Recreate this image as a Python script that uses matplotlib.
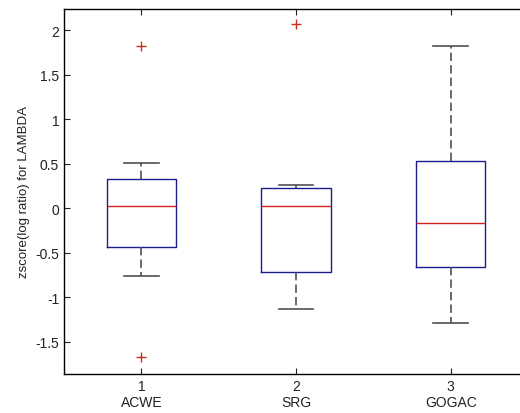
import matplotlib.pyplot as plt

plt.rcParams['font.family'] = ['Liberation Sans', 'DejaVu Sans']

# box statistics
labels = ["1\nACWE", "2\nSRG", "3\nGOGAC"]
medians = [0.02, 0.02, -0.17]
q1 = [-0.44, -0.71, -0.655]
q3 = [0.33, 0.23, 0.53]
whislo = [-0.76, -1.13, -1.29]
whishi = [0.51, 0.26, 1.82]
fliers = [[1.82, -1.67], [2.07], []]

stats = []
for i in range(len(labels)):
    stats.append(dict(med=medians[i], q1=q1[i], q3=q3[i],
                      whislo=whislo[i], whishi=whishi[i],
                      fliers=fliers[i], label=labels[i]))

fig = plt.figure(figsize=(5.2, 4.14), dpi=100)
ax = fig.add_axes([64 / 520, 39 / 414, 464 / 520, 365 / 414])

ax.bxp(stats, widths=0.45, showcaps=True,
       boxprops=dict(color='#1c1c8c', linewidth=1),
       medianprops=dict(color='#d42020', linewidth=1),
       whiskerprops=dict(color='#505050', linewidth=1.2, linestyle=(0, (5, 2.5))),
       capprops=dict(color='#505050', linewidth=1.2),
       flierprops=dict(marker='+', markeredgecolor='#c83020', markersize=7,
                       linestyle='none'))

ax.set_xlim(0.5, 3.5)
ax.set_ylim(-1.86, 2.236)
ax.set_yticks([-1.5, -1, -0.5, 0, 0.5, 1, 1.5, 2])
ax.set_yticklabels(['-1.5', '-1', '-0.5', '0', '0.5', '1', '1.5', '2'])
ax.tick_params(direction='in', length=4, top=True, right=True,
               labelsize=10, colors='#222222')
ax.set_ylabel("zscore(log ratio) for LAMBDA", fontsize=9.5, color='#222222')
for s in ax.spines.values():
    s.set_linewidth(1)

fig.savefig("out.png", dpi=100)
